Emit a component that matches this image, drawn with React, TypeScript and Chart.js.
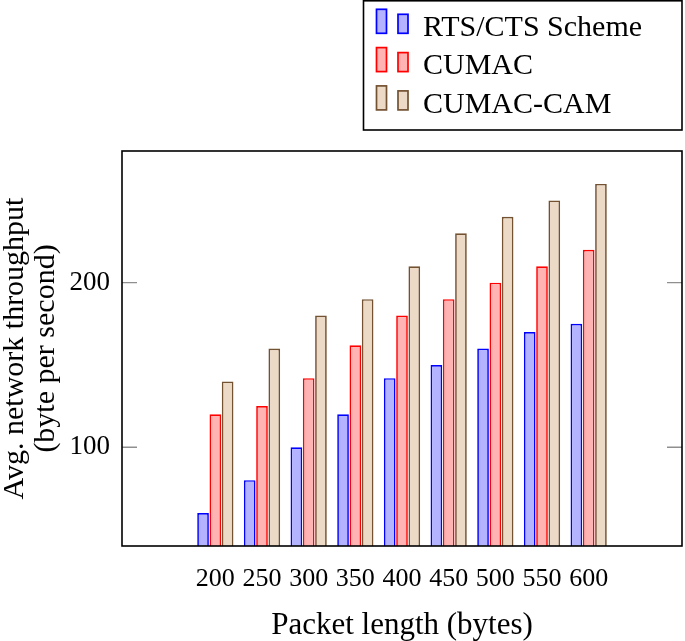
import React, { useEffect, useRef } from "react";
import { Chart, registerables } from "chart.js";

Chart.register(...registerables);

const packetLengths = [200, 250, 300, 350, 400, 450, 500, 550, 600];
const xTickLabels = ["200", "250", "300", "350", "400", "450", "500", "550", "600"];
const rtsCtsValues = [60, 80, 100, 120, 142, 150, 160, 170, 175];
const cumacValues = [120, 125, 142, 162, 180, 190, 200, 210, 220];
const cumacCamValues = [140, 160, 180, 190, 210, 230, 240, 250, 260];
const yTickValues = [100, 200];
const yTickLabels = ["100", "200"];
const seriesNames = ["RTS/CTS Scheme", "CUMAC", "CUMAC-CAM"];

const FONT = "'Liberation Serif', 'Times New Roman', serif";

const framePlugin = {
  id: "frameAndTicks",
  afterDatasetsDraw(chart: any) {
    const { ctx, chartArea: a, scales } = chart;
    const y = scales.y;
    ctx.save();
    ctx.strokeStyle = "#8f8f8f";
    ctx.lineWidth = 1.4;
    y.ticks.forEach((t: any) => {
      const py = y.getPixelForValue(t.value);
      ctx.beginPath();
      ctx.moveTo(a.left, py);
      ctx.lineTo(a.left + 15, py);
      ctx.moveTo(a.right - 15, py);
      ctx.lineTo(a.right, py);
      ctx.stroke();
    });
    ctx.strokeStyle = "#000";
    ctx.lineWidth = 1.6;
    ctx.strokeRect(a.left, a.top, a.right - a.left, a.bottom - a.top);
    ctx.restore();
  },
  afterDraw(chart: any) {
    const { ctx, chartArea: a } = chart;
    const boxLeft = 363.5;
    const boxRight = a.right;
    const boxTop = 0.8;
    const boxBottom = 130;
    ctx.save();
    ctx.fillStyle = "#fff";
    ctx.fillRect(boxLeft, boxTop, boxRight - boxLeft, boxBottom - boxTop);
    ctx.strokeStyle = "#000";
    ctx.lineWidth = 1.6;
    ctx.strokeRect(boxLeft, boxTop, boxRight - boxLeft, boxBottom - boxTop);
    chart.data.datasets.forEach((ds: any, i: number) => {
      const bottom = 33.3 + i * 38.3;
      ctx.lineWidth = 1.7;
      ctx.fillStyle = ds.backgroundColor;
      ctx.strokeStyle = ds.borderColor;
      ctx.fillRect(376.5, bottom - 24, 10, 24);
      ctx.strokeRect(376.5, bottom - 24, 10, 24);
      ctx.fillRect(398, bottom - 19, 10, 19);
      ctx.strokeRect(398, bottom - 19, 10, 19);
      ctx.fillStyle = "#000";
      ctx.font = `30px ${FONT}`;
      ctx.textBaseline = "alphabetic";
      ctx.textAlign = "left";
      ctx.fillText(ds.label, 423, bottom + 2.7);
    });
    ctx.restore();
  },
};

export default function App() {
  const ref = useRef<HTMLCanvasElement>(null);
  useEffect(() => {
    if (!ref.current) return;
    Chart.defaults.font.family = FONT;
    Chart.defaults.color = "#000";
    const mk = (vals: number[]) => vals.map((v, i) => ({ x: packetLengths[i], y: v }));
    const common = { borderWidth: 1.7, categoryPercentage: 0.79, barPercentage: 0.95 };
    const chart = new Chart(ref.current, {
      type: "bar",
      data: {
        datasets: [
          { label: seriesNames[0], data: mk(rtsCtsValues), backgroundColor: "#b3b3ff", borderColor: "#0000ff", ...common },
          { label: seriesNames[1], data: mk(cumacValues), backgroundColor: "#ffb3b3", borderColor: "#ff0000", ...common },
          { label: seriesNames[2], data: mk(cumacCamValues), backgroundColor: "#ecd9c6", borderColor: "#735232", ...common },
        ] as any,
      },
      options: {
        responsive: false,
        animation: false,
        devicePixelRatio: 1,
        layout: { padding: { top: 151, right: 3, left: 0, bottom: 0 } },
        plugins: { legend: { display: false }, tooltip: { enabled: false } },
        scales: {
          x: {
            type: "linear",
            min: 100,
            max: 700,
            offset: false,
            grid: { display: false, drawTicks: false, offset: false },
            border: { display: false },
            afterBuildTicks: (s: any) => {
              s.ticks = packetLengths.map((v) => ({ value: v }));
            },
            afterFit: (s: any) => {
              s.height = 95;
            },
            ticks: {
              autoSkip: false,
              maxRotation: 0,
              minRotation: 0,
              padding: 18,
              font: { size: 26 },
              callback: (_v: any, i: number) => xTickLabels[i],
            },
            title: { display: true, text: "Packet length (bytes)", font: { size: 31, lineHeight: 1 }, padding: 0 },
          },
          y: {
            min: 40,
            max: 280,
            grid: { display: false, drawTicks: false },
            border: { display: false },
            afterBuildTicks: (s: any) => {
              s.ticks = yTickValues.map((v) => ({ value: v }));
            },
            afterFit: (s: any) => {
              s.width = 122;
            },
            ticks: {
              padding: 12,
              font: { size: 27 },
              callback: (_v: any, i: number) => yTickLabels[i],
            },
            title: {
              display: true,
              text: ["Avg. network throughput", "(byte per second)"],
              font: { size: 30, lineHeight: 1.03 },
              padding: 0,
            },
          },
        } as any,
      },
      plugins: [framePlugin],
    });
    return () => chart.destroy();
  }, []);
  return (
    <div style={{ position: "absolute", left: 0, top: 0, width: 685, height: 641, background: "#fff" }}>
      <canvas ref={ref} width={685} height={641} />
    </div>
  );
}
